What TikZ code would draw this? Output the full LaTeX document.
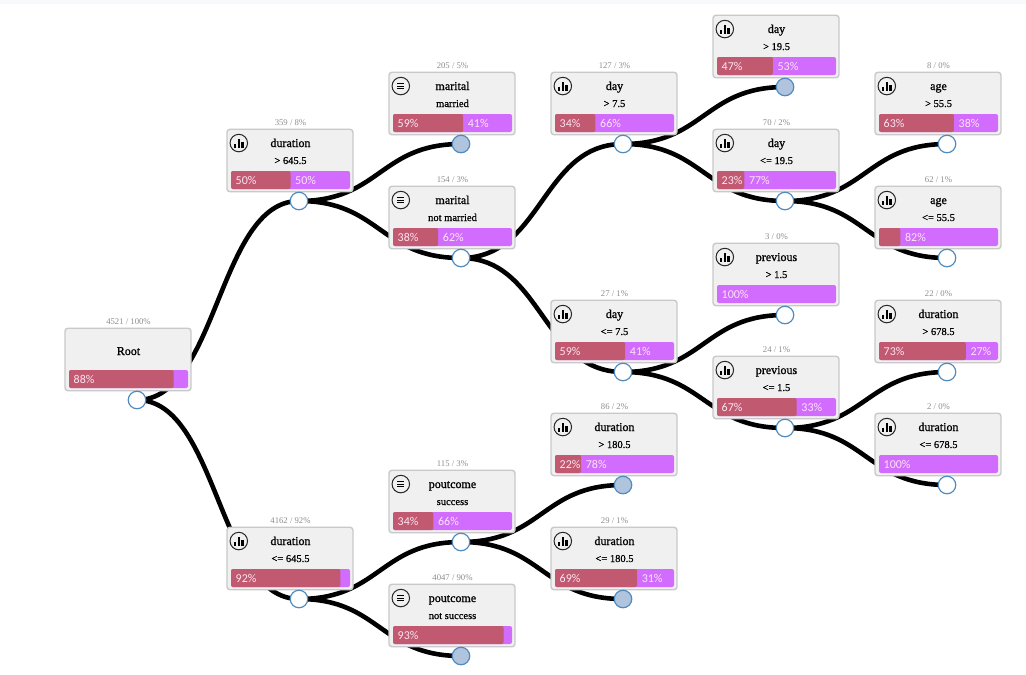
\documentclass[tikz,border=0pt]{standalone}
\usepackage{fontspec}
\setmainfont{Liberation Serif}
\newfontfamily\barfont{Carlito}
\newfontfamily\titlefont[FakeBold=1.1]{Liberation Serif}
\newfontfamily\condfont[FakeBold=0.6]{Liberation Serif}
\usetikzlibrary{backgrounds,calc}

\definecolor{boxfill}{HTML}{F0F0F0}
\definecolor{boxline}{HTML}{C9C9C9}
\definecolor{barred}{HTML}{C15970}
\definecolor{barpurple}{HTML}{D26CFF}
\definecolor{portline}{HTML}{4F8BBF}
\definecolor{portfull}{HTML}{B0C4DE}
\definecolor{counttext}{HTML}{8E8E8E}
\definecolor{barlabel}{HTML}{FBE6F2}
\definecolor{topstrip}{HTML}{F8F9FB}

\tikzset{
  x=1pt, y=-1pt,
  treebox/.style={draw=boxline, line width=1.4pt, fill=boxfill, rounded corners=3pt,
    minimum width=126pt, minimum height=62.5pt, inner sep=0pt},
  title/.style={font=\fontsize{12}{12}\titlefont, inner sep=0pt, anchor=base},
  cond/.style={font=\fontsize{10.5}{12}\condfont, inner sep=0pt, anchor=base},
  count/.style={font=\fontsize{8.7}{10}\selectfont, text=counttext, inner sep=0pt},
  barlab/.style={font=\fontsize{12}{14}\selectfont\barfont, text=barlabel, inner sep=0pt, anchor=west},
  porto/.style={circle, draw=portline, line width=1.2pt, fill=white, minimum size=17.5pt, inner sep=0pt},
  portf/.style={porto, fill=portfull},
  ring/.style={circle, draw=black!85, line width=1pt, minimum size=17.5pt, inner sep=0pt},
  link/.style={draw=black, line width=4.6pt},
}

% curve between two ports, leaving and arriving level
\newcommand{\treelink}[2]{%
  \draw[link] (#1.center) .. controls ($(#1.center)!.5!(#1.center-|#2.center)$)
    and ($(#2.center)!.5!(#2.center-|#1.center)$) .. (#2.center);}

\begin{document}
\begin{tikzpicture}
\useasboundingbox (0,0) rectangle (1026,675);

% Boxes: name/port x/port y/title/title height/condition/count/left share/left label/right label/port style
\foreach \nm/\px/\py/\ttl/\tdy/\cnd/\cnt/\share/\lft/\rgt/\prt in {
  root/137/400/Root/45//{4521 / 100\%}/88/{88\%}//porto,
  durhi/299/201/duration/54/{> 645.5}/{359 / 8\%}/50/{50\%}/{50\%}/porto,
  durlo/299/599/duration/54/{<= 645.5}/{4162 / 92\%}/92/{92\%}//porto,
  marone/461/144/marital/54/married/{205 / 5\%}/59/{59\%}/{41\%}/portf,
  martwo/461/258/marital/54/not married/{154 / 3\%}/38/{38\%}/{62\%}/porto,
  poutone/461/542/poutcome/54/success/{115 / 3\%}/34/{34\%}/{66\%}/porto,
  pouttwo/461/656/poutcome/54/not success/{4047 / 90\%}/93/{93\%}//portf,
  dayhi/623/144/day/54/{> 7.5}/{127 / 3\%}/34/{34\%}/{66\%}/porto,
  daylo/623/372/day/54/{<= 7.5}/{27 / 1\%}/59/{59\%}/{41\%}/porto,
  shorthi/623/485/duration/54/{> 180.5}/{86 / 2\%}/22/{22\%}/{78\%}/portf,
  shortlo/623/599/duration/54/{<= 180.5}/{29 / 1\%}/69/{69\%}/{31\%}/portf,
  latehi/785/87/day/54/{> 19.5}//47/{47\%}/{53\%}/portf,
  latelo/785/201/day/54/{<= 19.5}/{70 / 2\%}/23/{23\%}/{77\%}/porto,
  prevhi/785/315/previous/54/{> 1.5}/{3 / 0\%}/0//{100\%}/porto,
  prevlo/785/428/previous/54/{<= 1.5}/{24 / 1\%}/67/{67\%}/{33\%}/porto,
  agehi/947/144/age/54/{> 55.5}/{8 / 0\%}/63/{63\%}/{38\%}/porto,
  agelo/947/258/age/54/{<= 55.5}/{62 / 1\%}/18//{82\%}/porto,
  longhi/947/372/duration/54/{> 678.5}/{22 / 0\%}/73/{73\%}/{27\%}/porto,
  longlo/947/485/duration/54/{<= 678.5}/{2 / 0\%}/0//{100\%}/porto%
}{
  \node[treebox] (\nm) at (\px-9,\py-40.5) {};
  \node[\prt] (\nm port) at (\px,\py) {};
  \node[count] (\nm count) at (\px-8.5,\py-78) {\cnt};
  \node[title] (\nm title) at (\px-8.5,\py-\tdy) {\ttl};
  \node[cond] (\nm cond) at (\px-8.5,\py-37) {\cnd};
  % share bar
  \pgfmathsetmacro{\redw}{1.19*\share}
  \fill[barpurple, rounded corners=2pt] (\px-68,\py-30) rectangle (\px+51,\py-12);
  \ifnum\share>0
    \fill[barred, rounded corners=2pt] (\px-68,\py-30) rectangle ++(\redw,18);
  \fi
  \node[barlab] (\nm left) at (\px-63.5,\py-21) {\lft};
  \node[barlab] (\nm right) at (\px-63.5+\redw,\py-21) {\rgt};
}

% Icons
\foreach \nm in {durhi,durlo,dayhi,daylo,shorthi,shortlo,latehi,latelo,prevhi,prevlo,agehi,agelo,longhi,longlo}{
  \node[ring] (\nm icon) at ([shift={(12.5,14.5)}]\nm.north west) {};
  \fill ([shift={(-5,1)}]\nm icon.center) rectangle ++(2.6,3.5);
  \fill ([shift={(-1.3,-4.5)}]\nm icon.center) rectangle ++(2.6,9);
  \fill ([shift={(2.4,-1.5)}]\nm icon.center) rectangle ++(2.6,6);
}
\foreach \nm in {marone,martwo,poutone,pouttwo}{
  \node[ring] (\nm icon) at ([shift={(12.5,14.5)}]\nm.north west) {};
  \foreach \dy in {-2.6,0,2.6}
    \draw[line width=1pt] ([shift={(-3.5,\dy)}]\nm icon.center) -- ++(7,0);
}

% Links
\begin{scope}[on background layer]
  \fill[white] (0,0) rectangle (1026,675);
  \fill[topstrip] (0,0) rectangle (1026,4);
  \foreach \from/\to in {root/durhi,root/durlo,durhi/marone,durhi/martwo,durlo/poutone,durlo/pouttwo,
    martwo/dayhi,martwo/daylo,poutone/shorthi,poutone/shortlo,dayhi/latehi,dayhi/latelo,
    daylo/prevhi,daylo/prevlo,latelo/agehi,latelo/agelo,prevlo/longhi,prevlo/longlo}{
    \treelink{\from port}{\to port}
  }
\end{scope}
\end{tikzpicture}
\end{document}
